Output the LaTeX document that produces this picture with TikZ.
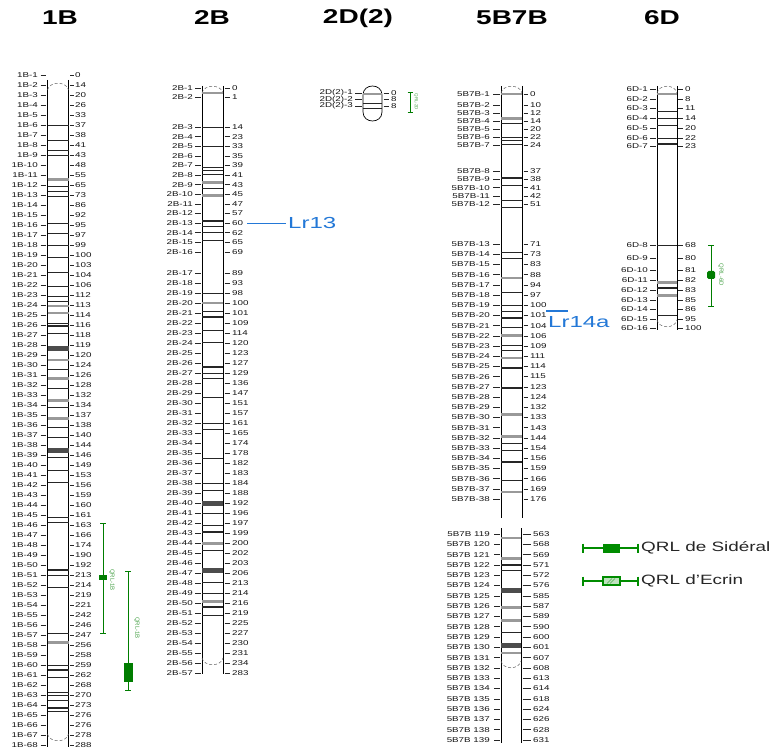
\documentclass[tikz,border=0pt]{standalone}
\usepackage{fontspec}
\setmainfont{Liberation Sans}
\usepackage{graphicx}
\definecolor{qgreen}{RGB}{0,125,0}
\definecolor{lgreen}{RGB}{0,140,0}
\definecolor{lrblue}{RGB}{35,120,215}
\newcommand\sx[1]{\scalebox{1.4}[1]{#1}}
\newcommand\sxl[1]{\scalebox{1.5}[1]{#1}}
\newcommand\labfont{\fontsize{7}{7}\selectfont}
\newcommand\drawbands[3]{\foreach \yy/\st in {#3}{\draw[\st] (#1,\yy) -- (#2,\yy);}}
\newcommand\topcap[3]{\draw[capd] ({#1},{#3+7}) .. controls ({#1+2},{#3-2}) and ({#2-2},{#3-2}) .. ({#2},{#3+7});}
\newcommand\botcap[3]{\draw[capd] ({#1},{#3-7}) .. controls ({#1+2},{#3+2}) and ({#2-2},{#3+2}) .. ({#2},{#3-7});}
\begin{document}
\begin{tikzpicture}[x=1pt,y=-1pt,
 lab/.style={font=\labfont,inner sep=0pt,anchor=east,text=black!92},
 num/.style={font=\labfont,inner sep=0pt,anchor=west,text=black!92},
 tk/.style={line width=0.55pt,black!85},
 bar/.style={line width=0.9pt},
 capd/.style={densely dashed,line width=0.5pt,black!60},
 bb/.style={line width=0.6pt,black!85},
 bg/.style={line width=1.4pt,black!40},
 bG/.style={line width=3pt,black!40},
 bB/.style={line width=1.6pt,black!85},
 bD/.style={line width=5pt,black!70},
 title/.style={font=\fontsize{20}{20}\selectfont\bfseries,inner sep=0pt},
 qtl/.style={qgreen,line width=0.9pt},
 qtxt/.style={font=\fontsize{6}{6}\selectfont,text=qgreen!70,inner sep=0pt,rotate=-90},
 lr/.style={font=\fontsize{16}{16}\selectfont,text=lrblue,inner sep=0pt,anchor=west},
 lrline/.style={lrblue,line width=1.1pt},
 lg/.style={lgreen,line width=1.2pt},
 legt/.style={font=\fontsize{13.5}{13.5}\selectfont,text=black!85,inner sep=0pt,anchor=west},
]
\useasboundingbox (0,0) rectangle (776,751);
\fill[white] (0,0) rectangle (776,751);

% titles
\node[title] (t1) at (60,18) {\sx{1B}};
\node[title] (t2) at (212,18) {\sx{2B}};
\node[title] (t3) at (358,18) {\sx{2D(2)}};
\node[title] (t4) at (512,18) {\sx{5B7B}};
\node[title] (t5) at (662,18) {\sx{6D}};

% ---------- 1B ----------
\draw[bar] (47.5,80) -- (47.5,747);
\draw[bar] (68.5,80) -- (68.5,747);
\topcap{47.5}{68.5}{83}
\botcap{47.5}{68.5}{741}
\drawbands{47.5}{68.5}{125/bb,140/bb,150/bb,155/bb,180/bG,186/bb,191/bb,196/bb,223/bb,233/bb,245/bb,257/bb,272/bb,286/bb,296/bb,301/bb,306/bg,313/bg,323/bb,326/bB,333/bb,348/bD,360/bg,369/bb,378/bG,388/bb,400/bG,407/bb,418/bG,427/bb,437/bb,450/bD,457/bb,470/bb,482/bb,517/bb,522/bb,570/bB,575/bb,587/bb,633/bb,642/bG,665/bb,670/bB,677/bb,692/bb,695/bb,700/bb,708/bB,711/bb}
\foreach \n [count=\k] in {0,14,20,26,33,37,38,41,43,48,55,65,73,86,92,95,97,99,100,103,104,106,112,113,114,116,118,119,120,124,126,128,132,134,137,138,140,144,146,149,153,156,159,160,161,163,166,174,190,192,213,214,219,221,242,246,247,256,258,259,262,268,270,273,276,276,278,288}{
  \pgfmathsetmacro\yy{75+10*(\k-1)}
  \node[lab] (a\k) at (38,\yy) {\sx{1B-\k}};
  \draw[tk] (40.5,\yy) -- (46,\yy);
  \draw[tk] (70,\yy) -- (73.5,\yy);
  \node[num] (an\k) at (75,\yy) {\sx{\n}};
}
% QTLs on 1B
\draw[qtl] (103,523) -- (103,633);
\draw[qtl] (100,523) -- (106,523); \draw[qtl] (100,633) -- (106,633);
\fill[qgreen] (99,575) rectangle (107,580);
\node[qtxt] (q1) at (112,580) {QRL-1B};
\draw[qtl] (128,571) -- (128,690);
\draw[qtl] (125,571) -- (131,571); \draw[qtl] (125,690) -- (131,690);
\fill[qgreen] (124,663) rectangle (133,682);
\node[qtxt] (q2) at (137,628) {QRL-1B};

% ---------- 2B ----------
\draw[bar] (202,86) -- (202,674);
\draw[bar] (223,86) -- (223,674);
\topcap{202}{223}{86}
\botcap{202}{223}{665}
\drawbands{202}{223}{93/bg,127/bb,146/bb,167/bb,170/bb,174/bb,183/bG,188/bb,196/bG,221/bB,226/bb,232/bb,240/bb,293/bb,303/bg,311/bb,317/bB,330/bb,342/bb,367/bB,373/bb,378/bb,397/bb,423/bb,429/bb,458/bb,483/bb,490/bb,503/bD,513/bb,525/bb,532/bB,543/bG,550/bb,570/bD,582/bb,593/bb,601/bG,607/bB,615/bb}
\foreach \n [count=\k] in {0,1,14,23,33,35,39,41,43,45,47,57,60,62,65,69,89,93,98,100,101,109,114,120,123,127,129,136,147,151,157,161,165,174,178,182,183,184,188,192,196,197,199,200,202,203,206,213,214,216,219,225,227,230,231,234,283}{
  \pgfmathsetmacro\yy{\k==1 ? 88 : (\k==2 ? 97.5 : (\k<17 ? 127+9.6*(\k-3) : 273+10*(\k-17)))}
  \node[lab] (b\k) at (193,\yy) {\sx{2B-\k}};
  \draw[tk] (195,\yy) -- (201,\yy);
  \draw[tk] (224.5,\yy) -- (230,\yy);
  \node[num] (bn\k) at (232,\yy) {\sx{\n}};
}
\coordinate (lr13a) at (247,223.4);
\coordinate (lr13b) at (286,223.4);
\draw[lrline] (lr13a) -- (lr13b);
\node[lr] (lr13) at (288,223.4) {\sxl{Lr13}};

% ---------- 2D(2) ----------
\draw[line width=0.7pt] (363,95) .. controls (363,83) and (382,83) .. (382,95) -- (382,112) .. controls (382,124) and (363,124) .. (363,112) -- cycle;
\drawbands{363}{382}{94/bg,103/bb,108/bb}
\foreach \yy/\n [count=\k] in {93/0,99.5/8,106/8}{
  \node[lab] (d\k) at (353,\yy) {\sx{2D(2)-\k}};
  \draw[tk] (355,\yy) -- (362,\yy);
  \draw[tk] (383.5,\yy) -- (389,\yy);
  \node[num] (dn\k) at (391,\yy) {\sx{\n}};
}
\draw[qtl] (410,92) -- (410,112);
\draw[qtl] (407.5,92) -- (412.5,92); \draw[qtl] (407.5,112) -- (412.5,112);
\node[qtxt,font=\fontsize{4.5}{4.5}\selectfont] (q3) at (416,102) {QRL-2D};

% ---------- 5B7B upper ----------
\draw[bar] (501,86) -- (501,518);
\draw[bar] (522,86) -- (522,518);
\topcap{501}{522}{86}
\drawbands{501}{522}{94/bg,119/bG,123/bb,137/bb,140/bb,144/bb,178/bB,185/bb,200/bb,207/bb,252/bb,258/bb,278/bg,292/bb,305/bb,311/bb,318/bB,327/bb,335/bG,345/bb,350/bb,358/bg,368/bB,388/bB,414/bG,436/bG,443/bb,450/bb,462/bB,480/bb,492/bg}
\foreach \n [count=\k] in {0,10,12,14,20,22,24,37,38,41,42,51,71,73,83,88,94,97,100,101,104,106,109,111,114,115,123,124,132,133,143,144,154,156,159,166,169,176}{
  \pgfmathsetmacro\yy{\k==1 ? 94 : (\k<8 ? 105+8*(\k-2) : (\k<13 ? 171+8.3*(\k-8) : 244+10.2*(\k-13)))}
  \node[lab] (c\k) at (490,\yy) {\sx{5B7B-\k}};
  \draw[tk] (493,\yy) -- (500,\yy);
  \draw[tk] (523.5,\yy) -- (528,\yy);
  \node[num] (cn\k) at (530,\yy) {\sx{\n}};
}
\coordinate (lr14a) at (546,311);
\coordinate (lr14b) at (568,311);
\draw[lrline] (lr14a) -- (lr14b);
\node[lr] (lr14) at (548,322) {\sxl{Lr14a}};

% ---------- 5B7B lower ----------
\draw[bar] (501,528) -- (501,743);
\draw[bar] (521,528) -- (521,743);
\botcap{501}{521}{668}
\drawbands{501}{521}{538/bg,558/bG,565/bB,570/bb,590/bD,607/bG,620/bG,632/bb,645/bD,653/bg}
\foreach \n [count=\k] in {563,568,569,571,572,576,585,587,589,590,600,601,607,608,613,614,618,624,626,628,631}{
  \pgfmathsetmacro\yy{534+10.3*(\k-1)}
  \pgfmathtruncatemacro\m{118+\k}
  \node[lab] (e\k) at (490,\yy) {\sx{5B7B \m}};
  \draw[tk] (494,\yy) -- (500,\yy);
  \draw[tk] (522.5,\yy) -- (531,\yy);
  \node[num] (en\k) at (533,\yy) {\sx{\n}};
}

% ---------- 6D ----------
\draw[bar] (657,86) -- (657,330);
\draw[bar] (677,86) -- (677,330);
\topcap{657}{677}{86}
\botcap{657}{677}{327}
\drawbands{657}{677}{94/bg,111/bb,118/bb,125/bb,138/bb,144/bB,245/bb,283/bG,288/bB,295/bG,315/bb}
\foreach \yy/\n [count=\k] in {89/0,99/8,108/11,118/14,128/20,138/22,146/23,245/68,258/80,270/81,280/82,290/83,300/85,309/86,319/95,328/100}{
  \node[lab] (f\k) at (648,\yy) {\sx{6D-\k}};
  \draw[tk] (650,\yy) -- (656,\yy);
  \draw[tk] (678,\yy) -- (683,\yy);
  \node[num] (fn\k) at (685,\yy) {\sx{\n}};
}
\draw[qtl] (711,245) -- (711,306);
\draw[qtl] (708,245) -- (714,245); \draw[qtl] (708,306) -- (714,306);
\fill[qgreen,rounded corners=1.5pt] (707,271) rectangle (715,279);
\node[qtxt] (q4) at (721,275) {QRL-6D};

% ---------- legend ----------
\coordinate (g1a) at (583,548); \coordinate (g1b) at (638,548);
\draw[lg] (g1a) -- (g1b);
\draw[lg] (583,543.5) -- (583,552.5); \draw[lg] (638,543.5) -- (638,552.5);
\fill[lgreen] (603,543.5) rectangle (620,552.5);
\node[legt] (leg1) at (641,548) {\sx{QRL de Sidéral}};
\coordinate (g2a) at (583,581); \coordinate (g2b) at (638,581);
\draw[lg] (g2a) -- (g2b);
\draw[lg] (583,576.5) -- (583,585.5); \draw[lg] (638,576.5) -- (638,585.5);
\draw[lgreen,line width=1.2pt,fill=lgreen!25] (603,577) rectangle (620,585);
\draw[lgreen!70,line width=0.6pt] (607,583.5) -- (612,578.5) (610,583.5) -- (615,578.5);
\node[legt] (leg2) at (641,581) {\sx{QRL d'Ecrin}};
\end{tikzpicture}
\end{document}
